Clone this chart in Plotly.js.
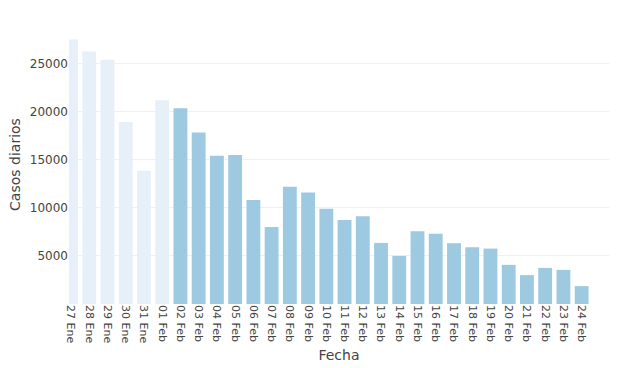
<!DOCTYPE html>
<html>
<head>
<meta charset="utf-8">
<script src="https://cdn.plot.ly/plotly-3.0.1.min.js"></script>
<style>html,body{margin:0;padding:0;background:#fff;}#chart{width:620px;height:368px;}</style>
</head>
<body>
<div id="chart"></div>
<script>
const fechas = ["27 Ene","28 Ene","29 Ene","30 Ene","31 Ene","01 Feb","02 Feb","03 Feb","04 Feb","05 Feb","06 Feb","07 Feb","08 Feb","09 Feb","10 Feb","11 Feb","12 Feb","13 Feb","14 Feb","15 Feb","16 Feb","17 Feb","18 Feb","19 Feb","20 Feb","21 Feb","22 Feb","23 Feb","24 Feb"];
const casos = [27500,26250,25400,18930,13850,21180,20350,17830,15400,15500,10810,8010,12190,11600,9900,8730,9120,6350,5000,7560,7310,6320,5900,5760,4070,3000,3750,3550,1860];
const nFaded = 6;
const colorFaded = "#e7f0f9";
const colorMain = "#9ecae1";
const yTicks = [5000,10000,15000,20000,25000];
const yTickText = ["5000","10000","15000","20000","25000"];

const colors = casos.map((v,i)=> i < nFaded ? colorFaded : colorMain);

const trace = {
  type: "bar",
  x: fechas.map((f,i)=>i),
  y: casos,
  marker: {color: colors},
  hoverinfo: "skip"
};

const layout = {
  width: 620, height: 368,
  margin: {l: 69, r: 11, t: 25, b: 64},
  paper_bgcolor: "#fff", plot_bgcolor: "#fff",
  bargap: 0.24,
  showlegend: false,
  font: {family: "DejaVu Sans, Verdana, sans-serif", color: "#444"},
  xaxis: {
    tickmode: "array",
    tickvals: fechas.map((f,i)=>i),
    ticktext: fechas,
    tickangle: 90,
    range: [-0.11, 29.5],
    showgrid: false,
    zeroline: false,
    tickfont: {size: 11},
    title: {text: "Fecha", font: {size: 14}, standoff: 7}
  },
  yaxis: {
    range: [0, 29000],
    tickmode: "array",
    tickvals: yTicks,
    ticktext: yTickText,
    gridcolor: "#eef0f3",
    zeroline: false,
    tickfont: {size: 12},
    title: {text: "Casos diarios", font: {size: 14}, standoff: 5}
  }
};

Plotly.newPlot("chart", [trace], layout, {displayModeBar: false, staticPlot: true});
</script>
</body>
</html>
